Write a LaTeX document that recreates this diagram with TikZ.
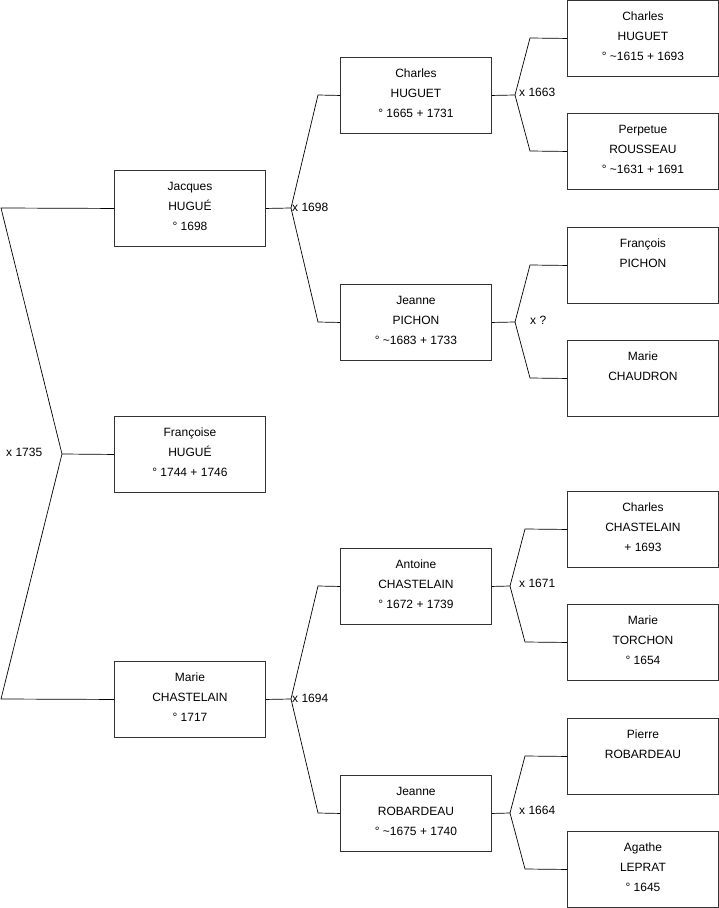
\documentclass[tikz,border=0pt]{standalone}
\usepackage{fontspec}
\setmainfont{Liberation Sans}
\begin{document}
\begin{tikzpicture}[x=1pt,y=-1pt,
  person/.style={draw=black!80, line width=0.9pt, minimum width=151pt, minimum height=76pt,
    inner sep=0pt, align=center, anchor=north west, font=\fontsize{12}{20}\selectfont},
  link/.style={draw=black, line width=0.7pt},
  union/.style={font=\fontsize{12}{14}\selectfont, inner sep=0pt, anchor=west}]
\useasboundingbox (0,0) rectangle (719,908);
% column 1
\node[person] (jacques) at (114,170) {Jacques\\HUGUÉ\\° 1698\\[-16pt]};
\node[person] (francoise) at (114,416) {Françoise\\HUGUÉ\\° 1744 + 1746\\[-16pt]};
\node[person] (marie) at (114,661) {Marie\\CHASTELAIN\\° 1717\\[-16pt]};
% column 2
\node[person] (charles) at (340,57) {Charles\\HUGUET\\° 1665 + 1731\\[-16pt]};
\node[person] (jeanne) at (340,284) {Jeanne\\PICHON\\° \textasciitilde1683 + 1733\\[-16pt]};
\node[person] (antoine) at (340,548) {Antoine\\CHASTELAIN\\° 1672 + 1739\\[-16pt]};
\node[person] (jeanner) at (340,775) {Jeanne\\ROBARDEAU\\° \textasciitilde1675 + 1740\\[-16pt]};
% column 3
\node[person] (charlesh) at (567,0) {Charles\\HUGUET\\° \textasciitilde1615 + 1693\\[-16pt]};
\node[person] (perpetue) at (567,113) {Perpetue\\ROUSSEAU\\° \textasciitilde1631 + 1691\\[-16pt]};
\node[person] (francois) at (567,227) {François\\PICHON\\\strut\\[-16pt]};
\node[person] (mariec) at (567,340) {Marie\\CHAUDRON\\\strut\\[-16pt]};
\node[person] (charlesc) at (567,491) {Charles\\CHASTELAIN\\+ 1693\\[-16pt]};
\node[person] (mariet) at (567,604) {Marie\\TORCHON\\° 1654\\[-16pt]};
\node[person] (pierre) at (567,718) {Pierre\\ROBARDEAU\\\strut\\[-16pt]};
\node[person] (agathe) at (567,831) {Agathe\\LEPRAT\\° 1645\\[-16pt]};
% level 1 union
\coordinate (v1) at (62,454);
\coordinate (a1) at (1,208);
\coordinate (a2) at (1,699);
\draw[link] (francoise.west) -- (v1);
\draw[link] (v1) -- (a1) -- (jacques.west);
\draw[link] (v1) -- (a2) -- (marie.west);
\node[union] (u1) at (6,452) {x 1735};
% level 2 unions
\coordinate (v2) at (291,208);
\coordinate (b1) at (318,95);
\coordinate (b2) at (318,322);
\draw[link] (jacques.east) -- (v2);
\draw[link] (v2) -- (b1) -- (charles.west);
\draw[link] (v2) -- (b2) -- (jeanne.west);
\node[union] (u2) at (292,207) {x 1698};
\coordinate (v3) at (291,699);
\coordinate (b3) at (318,586);
\coordinate (b4) at (318,813);
\draw[link] (marie.east) -- (v3);
\draw[link] (v3) -- (b3) -- (antoine.west);
\draw[link] (v3) -- (b4) -- (jeanner.west);
\node[union] (u3) at (292,698) {x 1694};
% level 3 unions
\coordinate (w1) at (515,95);
\coordinate (c1) at (530,38);
\coordinate (c2) at (530,151);
\draw[link] (charles.east) -- (w1);
\draw[link] (w1) -- (c1) -- (charlesh.west);
\draw[link] (w1) -- (c2) -- (perpetue.west);
\node[union] (u4) at (519,92) {x 1663};
\coordinate (w2) at (515,322);
\coordinate (c3) at (530,265);
\coordinate (c4) at (530,378);
\draw[link] (jeanne.east) -- (w2);
\draw[link] (w2) -- (c3) -- (francois.west);
\draw[link] (w2) -- (c4) -- (mariec.west);
\node[union] (u5) at (530,320) {x ?};
\coordinate (w3) at (510,586);
\coordinate (c5) at (525,529);
\coordinate (c6) at (525,642);
\draw[link] (antoine.east) -- (w3);
\draw[link] (w3) -- (c5) -- (charlesc.west);
\draw[link] (w3) -- (c6) -- (mariet.west);
\node[union] (u6) at (519,583) {x 1671};
\coordinate (w4) at (510,813);
\coordinate (c7) at (525,756);
\coordinate (c8) at (525,869);
\draw[link] (jeanner.east) -- (w4);
\draw[link] (w4) -- (c7) -- (pierre.west);
\draw[link] (w4) -- (c8) -- (agathe.west);
\node[union] (u7) at (519,810) {x 1664};
\end{tikzpicture}
\end{document}
